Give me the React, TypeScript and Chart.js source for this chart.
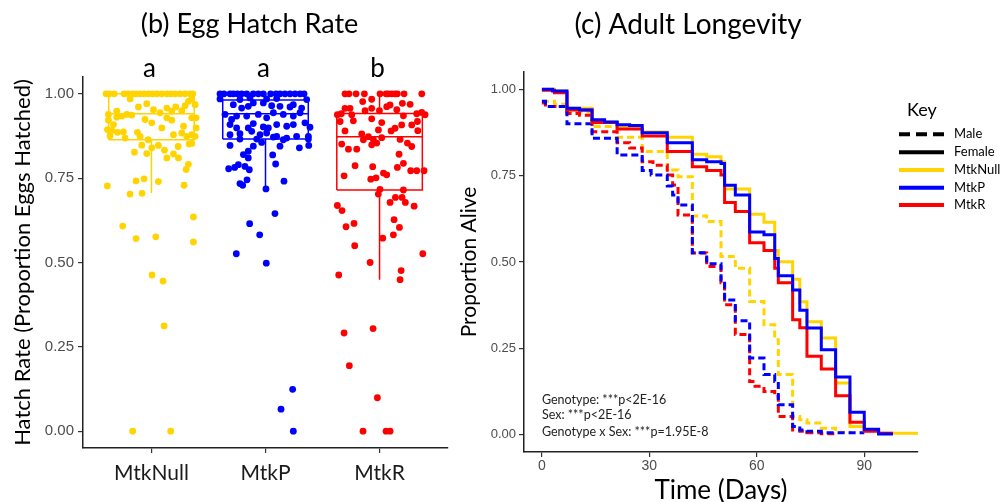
import React, { useEffect, useRef } from 'react';
import { Chart, registerables } from 'chart.js';

Chart.register(...registerables);

// ---------------- (b) Egg Hatch Rate ----------------
const groups = ['MtkNull', 'MtkP', 'MtkR'];
const groupColors = ['#FFD400', '#0000FF', '#FF0000'];
const sigLetters = ['a', 'a', 'b'];
const boxQ1 = [0.864, 0.866, 0.715];
const boxMedian = [0.941, 0.941, 0.873];
const boxQ3 = [1.0, 0.982, 0.942];
const whiskerLow = [0.706, 0.719, 0.449];
const whiskerHigh = [1.0, 1.0, 1.0];
const hatchTicks = [0, 0.25, 0.5, 0.75, 1];

// [jitter offset from category centre, hatch rate]
const nullPoints = [
  [-0.398, 1], [-0.368, 1], [-0.327, 1], [-0.24, 1], [-0.202, 1], [-0.164, 1], [-0.135, 1], [-0.099, 1], [-0.064, 1], [-0.026, 1],
  [0.012, 1], [0.047, 1], [0.091, 1], [0.135, 1], [0.17, 1], [0.208, 1], [0.251, 1], [0.295, 1], [0.339, 1], [0.363, 1],
  [-0.187, 0.985], [0.354, 0.985], [0.383, 0.968], [0.295, 0.965], [0.325, 0.978], [-0.041, 0.971], [-0.114, 0.961], [0.018, 0.953],
  [0.135, 0.958], [0.213, 0.961], [0.178, 0.949], [0.266, 0.95], [-0.377, 0.939], [-0.304, 0.949], [-0.216, 0.939], [-0.173, 0.937],
  [-0.26, 0.934], [-0.377, 0.922], [-0.333, 0.909], [-0.386, 0.894], [-0.348, 0.892], [-0.298, 0.886], [-0.246, 0.887], [-0.123, 0.886],
  [0.003, 0.914], [0.091, 0.899], [0.178, 0.922], [0.193, 0.879], [0.266, 0.884], [0.354, 0.929], [0.392, 0.929], [0.392, 0.899],
  [0.354, 0.879], [0.383, 0.874], [-0.363, 0.876], [-0.231, 0.869], [-0.099, 0.874], [-0.304, 0.931], [0.076, 0.944], [0.135, 0.929],
  [-0.056, 0.924], [0.31, 0.874], [0.281, 0.904],
  [-0.149, 0.827], [-0.041, 0.823], [0.003, 0.84], [0.114, 0.833], [0.193, 0.822], [0.135, 0.81], [0.237, 0.81], [-0.085, 0.848],
  [0.061, 0.847], [0.234, 0.844], [0.33, 0.851], [0.354, 0.853], [-0.029, 0.864],
  [-0.387, 0.727], [-0.135, 0.742], [-0.065, 0.748], [0.061, 0.74], [-0.188, 0.703], [-0.082, 0.705], [0.286, 0.729], [0.324, 0.791],
  [0.304, 0.776], [-0.252, 0.608], [-0.135, 0.571], [0.038, 0.576], [0.368, 0.635], [0.368, 0.561], [0.005, 0.463], [0.102, 0.445],
  [0.111, 0.312], [-0.164, 0], [0.169, 0],
];

const pPoints = [
  [-0.399, 1], [-0.364, 1], [-0.311, 1], [-0.282, 1], [-0.247, 1], [-0.209, 1], [-0.165, 1], [-0.107, 1], [-0.063, 1], [-0.019, 1],
  [0.045, 1], [0.092, 1], [0.127, 1], [0.171, 1], [0.215, 1], [0.259, 1], [0.303, 1], [0.338, 1],
  [-0.399, 0.985], [-0.136, 0.988], [-0.224, 0.983], [0.01, 0.985], [0.098, 0.986],
  [-0.282, 0.968], [-0.209, 0.958], [-0.151, 0.963], [-0.107, 0.973], [-0.019, 0.973], [0.054, 0.965], [0.127, 0.963], [0.215, 0.961],
  [0.244, 0.968], [0.317, 0.958], [0.361, 0.983],
  [-0.355, 0.939], [-0.297, 0.924], [-0.253, 0.934], [-0.165, 0.934], [-0.063, 0.939], [0.01, 0.929], [0.069, 0.944], [0.156, 0.939],
  [0.244, 0.934], [0.303, 0.944],
  [-0.311, 0.909], [-0.253, 0.899], [-0.151, 0.899], [-0.107, 0.912], [-0.019, 0.902], [0.025, 0.899], [0.098, 0.909], [0.186, 0.904],
  [0.244, 0.909], [0.346, 0.914], [0.39, 0.901],
  [-0.311, 0.879], [-0.224, 0.882], [-0.121, 0.889], [-0.048, 0.879], [0.01, 0.884], [0.098, 0.874], [0.186, 0.869], [0.273, 0.874],
  [0.376, 0.874],
  [-0.224, 0.866], [-0.077, 0.866], [0.069, 0.872], [0.156, 0.864], [0.376, 0.866],
  [-0.311, 0.847], [-0.194, 0.82], [-0.151, 0.83], [-0.151, 0.81], [-0.238, 0.79], [-0.18, 0.785], [-0.142, 0.775], [-0.323, 0.778],
  [-0.27, 0.782], [-0.2, 0.729], [-0.162, 0.745], [0.004, 0.718], [0.063, 0.819], [0.089, 0.792], [0.162, 0.741], [0.127, 0.845],
  [0.297, 0.84], [0.379, 0.847], [-0.034, 0.856], [-0.107, 0.845], [-0.224, 0.734],
  [-0.256, 0.526], [-0.139, 0.615], [-0.051, 0.582], [0.007, 0.498], [0.083, 0.645], [0.238, 0.124], [0.136, 0.065], [0.244, 0],
];

const rPoints = [
  [-0.303, 1], [-0.268, 1], [-0.206, 1], [-0.133, 1], [0.004, 1], [0.057, 1], [0.077, 1], [0.107, 1], [0.136, 1], [0.156, 1],
  [0.215, 1], [0.37, 1],
  [-0.148, 0.977], [-0.069, 0.984], [0.2, 0.972], [0.268, 0.969],
  [-0.37, 0.938], [-0.335, 0.941], [-0.303, 0.957], [-0.259, 0.957], [-0.244, 0.938], [-0.127, 0.95], [-0.069, 0.957], [-0.001, 0.95],
  [0.063, 0.962], [0.092, 0.967], [0.151, 0.953], [0.209, 0.935], [0.326, 0.941], [0.37, 0.945], [0.399, 0.938],
  [-0.346, 0.918], [-0.23, 0.92], [-0.069, 0.926], [0.019, 0.915], [0.101, 0.89], [0.136, 0.898], [0.194, 0.908], [0.282, 0.908],
  [0.332, 0.918], [0.335, 0.891], [-0.303, 0.89], [-0.156, 0.881], [-0.142, 0.864], [-0.098, 0.873], [-0.054, 0.864], [-0.01, 0.893],
  [0.019, 0.87], [-0.025, 0.854], [-0.069, 0.849], [-0.2, 0.836], [-0.273, 0.836], [-0.332, 0.851], [0.18, 0.865], [0.244, 0.854],
  [0.282, 0.844],
  [0.171, 0.821], [0.209, 0.794], [0.156, 0.782], [0.273, 0.772], [0.326, 0.772], [0.39, 0.772], [-0.215, 0.787], [-0.06, 0.784],
  [-0.311, 0.757], [-0.077, 0.747], [-0.031, 0.751], [0.034, 0.765], [0.063, 0.76],
  [-0.37, 0.669], [-0.329, 0.654], [-0.294, 0.606], [-0.224, 0.616], [-0.218, 0.55], [-0.083, 0.5], [-0.358, 0.463], [0.028, 0.572],
  [0.127, 0.627], [0.174, 0.604], [0.121, 0.582], [0.092, 0.678], [0.139, 0.693], [0.197, 0.693], [0.226, 0.678], [0.303, 0.667],
  [0.209, 0.715], [0.004, 0.717], [-0.011, 0.703], [0.379, 0.526], [0.189, 0.476], [0.18, 0.449], [-0.311, 0.291], [-0.057, 0.304],
  [-0.265, 0.194], [-0.019, 0.099], [-0.145, 0], [0.057, 0], [0.092, 0],
];
const groupPoints = [nullPoints, pPoints, rPoints];

// ---------------- (c) Adult Longevity ----------------
const dayTicks = [0, 30, 60, 90];
const aliveTicks = [0, 0.25, 0.5, 0.75, 1];
// [day, proportion alive]
const nullFemale = [
  [0, 1.0], [3.5, 0.995], [7, 0.945], [14, 0.905], [21, 0.893], [28, 0.876], [35, 0.861], [42, 0.812], [46, 0.805], [50, 0.79],
  [51, 0.711], [58, 0.638], [62, 0.615], [65, 0.533], [66, 0.501], [70, 0.45], [72, 0.385], [74, 0.327], [78, 0.28], [82, 0.15],
  [86, 0.024], [90, 0.014], [94, 0.004], [105, 0.004],
];
const pFemale = [
  [0, 1.0], [3, 0.995], [7, 0.945], [10.5, 0.94], [14, 0.912], [17.5, 0.905], [21, 0.897], [24.5, 0.895], [28, 0.874], [35, 0.845],
  [42, 0.796], [46, 0.79], [50, 0.785], [51, 0.722], [54, 0.694], [58, 0.587], [62, 0.579], [65, 0.51], [66, 0.46], [70, 0.419],
  [72, 0.36], [74, 0.309], [78, 0.246], [82, 0.167], [86, 0.065], [90, 0.016], [94, 0.002], [98, 0.002],
];
const rFemale = [
  [0, 0.997], [3.5, 0.99], [7, 0.94], [14, 0.904], [21, 0.885], [28, 0.865], [35, 0.82], [42, 0.776], [46, 0.765], [50, 0.752],
  [51, 0.672], [54, 0.646], [58, 0.556], [62, 0.533], [65, 0.482], [66, 0.44], [70, 0.333], [72, 0.31], [74, 0.227], [78, 0.19],
  [82, 0.113], [86, 0.036], [90, 0.01], [94, 0.004], [98, 0.004],
];
const nullMale = [
  [0, 0.965], [3.5, 0.957], [7, 0.935], [14, 0.892], [21, 0.861], [28, 0.82], [35, 0.766], [38, 0.747], [42, 0.633], [46, 0.617],
  [50, 0.516], [54, 0.482], [58, 0.386], [62, 0.318], [65, 0.275], [66, 0.174], [70, 0.053], [72, 0.043], [74, 0.034], [78, 0.019],
  [82, 0.007], [86, 0.003],
];
const pMale = [
  [0, 0.965], [1, 0.95], [7, 0.9], [14, 0.858], [21, 0.81], [28, 0.765], [30.5, 0.752], [35, 0.72], [36.5, 0.694], [38, 0.665],
  [42, 0.527], [46, 0.495], [50, 0.448], [51, 0.39], [54, 0.33], [58, 0.222], [62, 0.174], [65, 0.154], [66, 0.087], [70, 0.024],
  [72, 0.014], [74, 0.01], [78, 0.006], [90, 0.006],
];
const rMale = [
  [0, 0.96], [1, 0.95], [7, 0.93], [10.5, 0.925], [14, 0.877], [21, 0.845], [24.5, 0.83], [28, 0.79], [31, 0.78], [35, 0.752],
  [36.5, 0.723], [38, 0.636], [42, 0.526], [46, 0.487], [50, 0.44], [51, 0.376], [54, 0.29], [58, 0.154], [59.5, 0.14], [62, 0.125],
  [65, 0.111], [66, 0.053], [70, 0.014], [72, 0.01], [74, 0.006], [78, 0.003], [82, 0.003],
];
const statLines = ['Genotype: ***p<2E-16', 'Sex: ***p<2E-16', 'Genotype x Sex: ***p=1.95E-8'];
const keyLabels = ['Male', 'Female', 'MtkNull', 'MtkP', 'MtkR'];

const CAL = 'Lato, "Open Sans", sans-serif';
const ARIAL = '"Liberation Sans", Arial, sans-serif';

function leftConfig(): any {
  const datasets: any[] = [];
  groupPoints.forEach((pts, i) => {
    datasets.push({
      type: 'scatter',
      data: pts.map(([j, r]) => ({ x: i + 1 + j, y: r })),
      backgroundColor: groupColors[i],
      borderWidth: 0,
      pointRadius: 3.4,
      order: 0,
    });
  });
  const hw = 0.375;
  groups.forEach((_, i) => {
    const c = i + 1;
    datasets.push({
      type: 'line',
      data: [
        { x: c - hw, y: boxQ1[i] }, { x: c + hw, y: boxQ1[i] }, { x: c + hw, y: boxQ3[i] }, { x: c - hw, y: boxQ3[i] },
        { x: c - hw, y: boxQ1[i] }, { x: c, y: null },
        { x: c - hw, y: boxMedian[i] }, { x: c + hw, y: boxMedian[i] }, { x: c, y: null },
        { x: c, y: boxQ1[i] }, { x: c, y: whiskerLow[i] }, { x: c, y: null },
        { x: c, y: boxQ3[i] }, { x: c, y: whiskerHigh[i] },
      ],
      borderColor: groupColors[i],
      borderWidth: 1.5,
      pointRadius: 0,
      fill: false,
      spanGaps: false,
      order: 1,
    });
  });

  const titlePlugin = {
    id: 'leftDecor',
    afterDraw(chart: any) {
      const { ctx, scales } = chart;
      ctx.save();
      ctx.fillStyle = '#000';
      ctx.textAlign = 'center';
      ctx.textBaseline = 'alphabetic';
      ctx.font = `27px ${CAL}`;
      ctx.fillText('(b) Egg Hatch Rate', 249.5, 33);
      ctx.font = `26px ${CAL}`;
      sigLetters.forEach((l, i) => {
        ctx.fillText(l, scales.x.getPixelForValue(i + 1) - 2, scales.y.getPixelForValue(1.05));
      });
      ctx.restore();
    },
  };

  return {
    data: { datasets },
    options: {
      responsive: false,
      animation: false,
      devicePixelRatio: 1,
      layout: { padding: { top: 77, right: 7, left: 0, bottom: 0 } },
      plugins: { legend: { display: false }, tooltip: { enabled: false } },
      scales: {
        x: {
          type: 'linear',
          min: 0.4,
          max: 3.6,
          afterBuildTicks: (s: any) => { s.ticks = groups.map((_, i) => ({ value: i + 1 })); },
          afterFit: (s: any) => { s.height = 54; },
          ticks: {
            callback: (v: number) => groups[Math.round(v) - 1],
            font: { family: CAL, size: 21 },
            color: '#1a1a1a',
            padding: 8,
            autoSkip: false,
            maxRotation: 0,
          },
          grid: { drawOnChartArea: false, tickLength: 5, color: '#333', lineWidth: 1.2 },
          border: { color: '#222', width: 1.5 },
        },
        y: {
          type: 'linear',
          min: -0.05,
          max: 1.05,
          afterBuildTicks: (s: any) => { s.ticks = hatchTicks.map((v) => ({ value: v })); },
          afterFit: (s: any) => { s.width = 83; },
          ticks: {
            callback: (v: number) => v.toFixed(2),
            font: { family: ARIAL, size: 15 },
            color: '#4d4d4d',
            padding: 4,
          },
          grid: { drawOnChartArea: false, tickLength: 5, color: '#333', lineWidth: 1.2 },
          border: { color: '#222', width: 1.5 },
          title: {
            display: true,
            text: 'Hatch Rate (Proportion Eggs Hatched)',
            font: { family: CAL, size: 22 },
            color: '#000',
            padding: { top: 10, bottom: 0 },
          },
        },
      },
    },
    plugins: [titlePlugin],
  };
}

function rightConfig(): any {
  const OFF = 455;
  const series = [
    { d: pFemale, c: groupColors[1], dash: [] },
    { d: rFemale, c: groupColors[2], dash: [] },
    { d: nullFemale, c: groupColors[0], dash: [] },
    { d: pMale, c: groupColors[1], dash: [7, 4] },
    { d: rMale, c: groupColors[2], dash: [7, 4] },
    { d: nullMale, c: groupColors[0], dash: [7, 4] },
  ];
  const datasets = series.map((s) => ({
    type: 'line',
    data: s.d.map(([t, p]) => ({ x: t, y: p })),
    borderColor: s.c,
    borderWidth: 3,
    borderDash: s.dash,
    borderCapStyle: 'butt',
    stepped: 'before',
    pointRadius: 0,
    fill: false,
  }));

  const decor = {
    id: 'rightDecor',
    afterDraw(chart: any) {
      const { ctx, scales } = chart;
      ctx.save();
      ctx.fillStyle = '#000';
      ctx.textAlign = 'center';
      ctx.textBaseline = 'alphabetic';
      ctx.font = `28px ${CAL}`;
      ctx.fillText('(c) Adult Longevity', 688 - OFF, 34);
      // key
      ctx.font = `18px ${CAL}`;
      ctx.fillText('Key', 922 - OFF, 116);
      const rows = [134.3, 152.3, 170, 187.7, 205];
      const keyColors = ['#000', '#000', groupColors[0], groupColors[1], groupColors[2]];
      rows.forEach((y, i) => {
        ctx.beginPath();
        ctx.strokeStyle = keyColors[i];
        ctx.lineWidth = 4;
        ctx.lineCap = 'butt';
        ctx.setLineDash(i === 0 ? [11, 6] : []);
        ctx.moveTo(899 - OFF, y);
        ctx.lineTo(944 - OFF, y);
        ctx.stroke();
      });
      ctx.setLineDash([]);
      ctx.textAlign = 'left';
      ctx.textBaseline = 'middle';
      ctx.font = `13px ${CAL}`;
      keyLabels.forEach((l, i) => {
        ctx.fillText(l, 954 - OFF, rows[i]);
      });
      // statistics
      ctx.font = `12.5px ${CAL}`;
      ctx.fillStyle = '#222';
      const sy = [0.101, 0.056, 0.008];
      statLines.forEach((l, i) => {
        ctx.fillText(l, scales.x.getPixelForValue(0), scales.y.getPixelForValue(sy[i]));
      });
      ctx.restore();
    },
  };

  return {
    data: { datasets },
    options: {
      responsive: false,
      animation: false,
      devicePixelRatio: 1,
      layout: { padding: { top: 72, right: 85, left: 0, bottom: 0 } },
      plugins: { legend: { display: false }, tooltip: { enabled: false } },
      scales: {
        x: {
          type: 'linear',
          min: -5,
          max: 105,
          afterBuildTicks: (s: any) => { s.ticks = dayTicks.map((v) => ({ value: v })); },
          afterFit: (s: any) => { s.height = 50; },
          ticks: { font: { family: ARIAL, size: 14 }, color: '#4d4d4d', padding: 1, maxRotation: 0 },
          grid: { drawOnChartArea: false, tickLength: 5, color: '#333', lineWidth: 1.2 },
          border: { color: '#222', width: 1.5 },
          title: {
            display: true,
            text: 'Time (Days)',
            font: { family: CAL, size: 26 },
            color: '#000',
            padding: { top: 0, bottom: -4 },
          },
        },
        y: {
          type: 'linear',
          min: -0.05,
          max: 1.05,
          afterBuildTicks: (s: any) => { s.ticks = aliveTicks.map((v) => ({ value: v })); },
          afterFit: (s: any) => { s.width = 69; },
          ticks: {
            callback: (v: number) => v.toFixed(2),
            font: { family: ARIAL, size: 13 },
            color: '#4d4d4d',
            padding: 3,
          },
          grid: { drawOnChartArea: false, tickLength: 5, color: '#333', lineWidth: 1.2 },
          border: { color: '#222', width: 1.5 },
          title: {
            display: true,
            text: 'Proportion Alive',
            font: { family: CAL, size: 21 },
            color: '#000',
            padding: { top: 2, bottom: 0 },
          },
        },
      },
    },
    plugins: [decor],
  };
}

export default function App() {
  const leftRef = useRef<HTMLCanvasElement>(null);
  const rightRef = useRef<HTMLCanvasElement>(null);
  useEffect(() => {
    document.body.style.margin = '0';
    const c1 = new Chart(leftRef.current as HTMLCanvasElement, leftConfig());
    const c2 = new Chart(rightRef.current as HTMLCanvasElement, rightConfig());
    return () => {
      c1.destroy();
      c2.destroy();
    };
  }, []);
  return (
    <div style={{ position: 'fixed', left: 0, top: 0, width: 1003, height: 502, background: '#fff', overflow: 'hidden' }}>
      <canvas ref={leftRef} width={455} height={502} style={{ position: 'absolute', left: 0, top: 0, display: 'block' }} />
      <canvas ref={rightRef} width={548} height={502} style={{ position: 'absolute', left: 455, top: 0, display: 'block' }} />
    </div>
  );
}
